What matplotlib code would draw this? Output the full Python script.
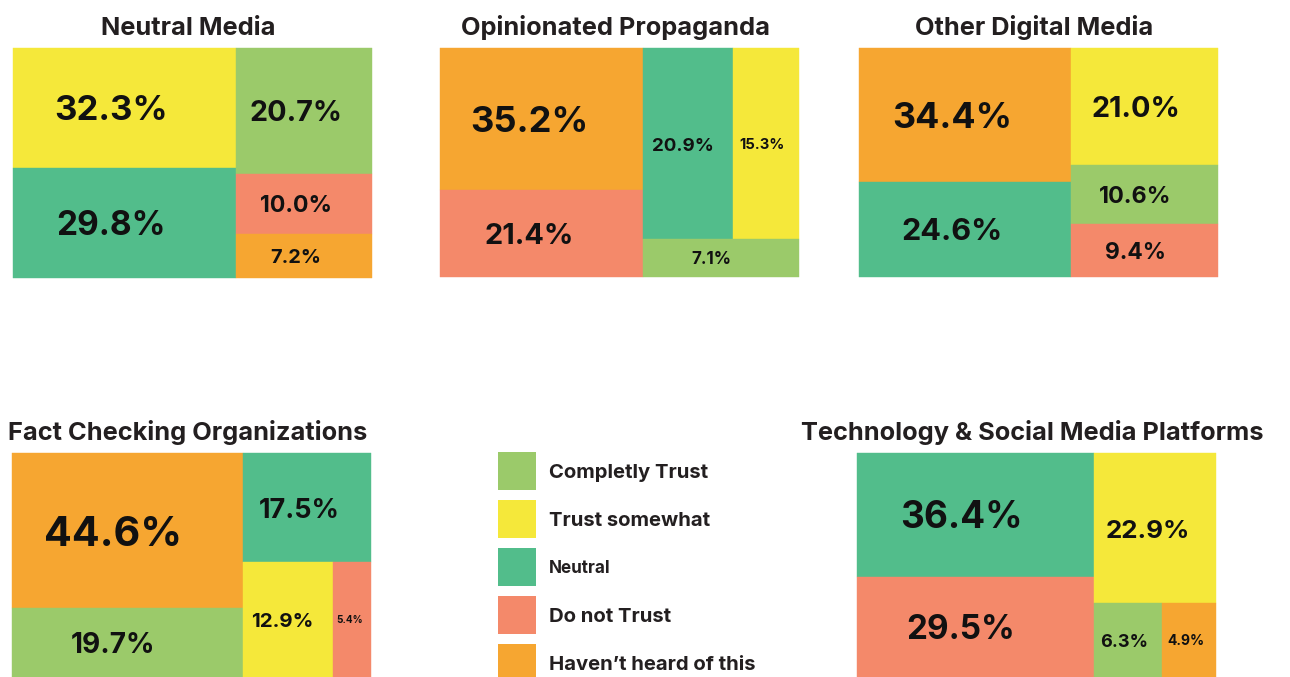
import matplotlib
matplotlib.use('Agg')
import matplotlib.pyplot as plt
from matplotlib.patches import Rectangle
from matplotlib.textpath import TextPath
from matplotlib.font_manager import FontProperties

plt.rcParams['font.family'] = ['Inter', 'DejaVu Sans']

# Categorias y colores
categories = ['Completly Trust', 'Trust somewhat', 'Neutral', 'Do not Trust', 'Haven’t heard of this']
colors = ['#9BCA6A', '#F5E83A', '#52BD8B', '#F4896A', '#F6A631']

titles = ['Neutral Media', 'Opinionated Propaganda', 'Other Digital Media',
          'Fact Checking Organizations', 'Technology & Social Media Platforms']

# Porcentajes por categoria (mismo orden que categories)
neutral_media = [20.7, 32.3, 29.8, 10.0, 7.2]
opinionated = [7.1, 15.3, 20.9, 21.4, 35.2]
other_digital = [10.6, 21.0, 24.6, 9.4, 34.4]
fact_checking = [19.7, 12.9, 17.5, 5.4, 44.6]
tech_social = [6.3, 22.9, 36.4, 29.5, 4.9]
series = [neutral_media, opinionated, other_digital, fact_checking, tech_social]

W, H, DPI = 1290, 677, 100
PHI = (1 + 5 ** 0.5) / 2

# cajas de cada treemap en pixeles (izq, arriba, ancho, alto)
boxes = [(13, 48, 359, 230), (440, 48, 359, 229), (859, 48, 359, 229),
         (12, 453, 359, 224), (857, 453, 359, 224)]

fp = FontProperties(family=['Inter', 'DejaVu Sans'], weight='bold')
cap_ratio = TextPath((0, 0), 'H', size=100, prop=fp).get_extents().height / 100


def squarify(values, x0, y0, x1, y1):
    # treemap cuadrado estilo d3 (ratio aureo), y hacia abajo
    order = sorted(range(len(values)), key=lambda i: -values[i])
    vals = [values[i] for i in order]
    out = []
    value = sum(vals)
    i0, n = 0, len(vals)
    while i0 < n:
        dx, dy = x1 - x0, y1 - y0
        s = vals[i0]
        mn = mx = s
        alpha = max(dy / dx, dx / dy) / (value * PHI)
        beta = s * s * alpha
        best = max(mx / beta, beta / mn)
        i1 = i0 + 1
        while i1 < n:
            v = vals[i1]
            s2 = s + v
            mn2, mx2 = min(mn, v), max(mx, v)
            beta = s2 * s2 * alpha
            r = max(mx2 / beta, beta / mn2)
            if r > best:
                break
            s, mn, mx, best = s2, mn2, mx2, r
            i1 += 1
        if dx < dy:
            h = dy * s / value
            xx = x0
            for k in order[i0:i1]:
                w = dx * values[k] / s
                out.append((k, xx, y0, w, h))
                xx += w
            y0 += h
        else:
            w = dx * s / value
            yy = y0
            for k in order[i0:i1]:
                h = dy * values[k] / s
                out.append((k, x0, yy, w, h))
                yy += h
            x0 += w
        value -= s
        i0 = i1
    return out


def label_size(s, v, w, h):
    cap = min(13 + 0.38 * v, 0.33 * h)
    size_cap = cap / cap_ratio * 72 / DPI
    w100 = TextPath((0, 0), s, size=100, prop=fp).get_extents().width / 100
    size_w = 0.66 * w / w100 * 72 / DPI
    return min(size_cap, size_w)


fig = plt.figure(figsize=(W / DPI, H / DPI), dpi=DPI)
ax = fig.add_axes([0, 0, 1, 1])
ax.set_xlim(0, W)
ax.set_ylim(H, 0)
ax.axis('off')

for title, vals, (bx, by, bw, bh) in zip(titles, series, boxes):
    for k, x, y, w, h in squarify(vals, bx, by, bx + bw, by + bh):
        ax.add_patch(Rectangle((x, y), w, h, facecolor=colors[k], edgecolor=colors[k], lw=0.3))
        s = f'{vals[k]:.1f}%'
        fs = label_size(s, vals[k], w, h)
        cap_px = fs * DPI / 72 * cap_ratio
        ax.text(x + w / 2 - 0.06 * w, y + h / 2 + cap_px / 2, s, ha='center', va='baseline',
                fontsize=fs, fontweight='bold', color='#111111')
    ax.text(bx + bw / 2 - 4, by - 13, title, ha='center', va='baseline',
            fontsize=18.3, fontweight='bold', color='#231F20')

# Leyenda
for i, (cat, col) in enumerate(zip(categories, colors)):
    y = 452 + 48 * i
    ax.add_patch(Rectangle((498, y), 38, 38, facecolor=col, edgecolor='none'))
    fs = 12.3 if cat == 'Neutral' else 14.6
    cap_px = fs * DPI / 72 * cap_ratio
    ax.text(549, y + 19 + cap_px / 2, cat, ha='left', va='baseline',
            fontsize=fs, fontweight='bold', color='#231F20')

fig.savefig('out.png', dpi=DPI)
